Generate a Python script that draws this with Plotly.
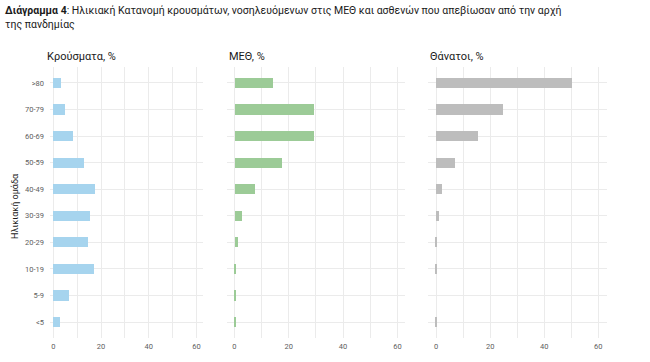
import plotly.graph_objects as go

ages = ["<5", "5-9", "10-19", "20-29", "30-39", "40-49", "50-59", "60-69", "70-79", ">80"]
cases = [2.8, 6.4, 17.0, 14.5, 15.4, 17.4, 13.0, 8.1, 4.9, 3.2]
icu = [0.3, 0.3, 0.6, 1.1, 2.9, 7.5, 17.4, 29.3, 29.3, 14.0]
deaths = [0.1, 0.0, 0.2, 0.2, 1.0, 2.4, 7.0, 15.7, 25.0, 50.4]
panel_titles = ["Κρούσματα, %", "ΜΕΘ, %", "Θάνατοι, %"]
xtick_vals = [0, 10, 20, 30, 40, 50, 60]
xtick_text = ["0", "", "20", "", "40", "", "60"]

W, H = 650, 362
colors = ["#a6d4ee", "#9ccb97", "#bdbdbd"]
series = [cases, icu, deaths]
xdoms = [(50, 203.3), (226.7, 405), (428.3, 606.7)]
xranges = [[-1.4, 62.9], [-2.8, 62.8], [-2.9, 63.1]]
ytop, ybot = 67, 338
ydom = [1 - ybot / H, 1 - ytop / H]

fig = go.Figure()
grid = "#ebebeb"
tickfont = dict(family="Roboto, Liberation Sans, sans-serif", size=7.5, color="#5e5e5e")
for i in range(3):
    ax = "" if i == 0 else str(i + 1)
    fig.add_trace(go.Bar(
        x=series[i], y=ages, orientation="h", width=0.38,
        marker=dict(color=colors[i], line=dict(width=0)),
        xaxis="x" + ax, yaxis="y" + ax, showlegend=False, hoverinfo="x+y"))
    fig.layout["xaxis" + ax] = dict(
        domain=[xdoms[i][0] / W, xdoms[i][1] / W], range=xranges[i],
        tickvals=xtick_vals, ticktext=xtick_text, showgrid=True, gridcolor=grid,
        gridwidth=1, zeroline=False, showline=False, ticks="", tickfont=tickfont,
        anchor="y" + ax, ticklabelstandoff=2)
    fig.layout["yaxis" + ax] = dict(
        domain=ydom, range=[-0.6, 9.6], type="category",
        categoryorder="array", categoryarray=ages,
        showgrid=True, gridcolor=grid, gridwidth=1, zeroline=False,
        showline=False, ticks="", showticklabels=(i == 0), tickfont=tickfont,
        anchor="x" + ax, ticklabelstandoff=5)
    fig.add_annotation(
        x=xdoms[i][0] / W - (5 / W if i == 0 else 0), y=1 - 57 / H, xref="paper", yref="paper",
        text=panel_titles[i], showarrow=False, xanchor="left", yanchor="middle",
        font=dict(family="Roboto, Liberation Sans, sans-serif", size=11, color="#1a1a1a"))

fig.add_annotation(
    x=15 / W, y=1 - 206 / H, xref="paper", yref="paper", text="Ηλικιακή ομάδα",
    textangle=-90, showarrow=False, xanchor="center", yanchor="middle",
    font=dict(family="Roboto, Liberation Sans, sans-serif", size=9, color="#1a1a1a"))

fig.add_annotation(
    x=3 / W, y=1 - 2 / H, xref="paper", yref="paper",
    text="<b>Διάγραμμα 4</b>: Ηλικιακή Κατανομή κρουσμάτων, νοσηλευόμενων στις ΜΕΘ και ασθενών που απεβίωσαν από την αρχή<br>της πανδημίας",
    showarrow=False, xanchor="left", yanchor="top", align="left",
    font=dict(family="Liberation Sans Narrow, Roboto, sans-serif", size=10.5, color="#1a1a1a"))

fig.update_layout(
    width=W, height=H, margin=dict(l=0, r=0, t=0, b=0),
    paper_bgcolor="white", plot_bgcolor="white", bargap=0)

fig.write_html("out.html", config={"displayModeBar": False},
               post_script="document.body.style.margin='0';")
